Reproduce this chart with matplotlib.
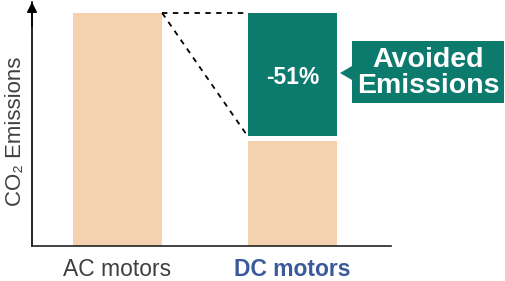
import matplotlib
matplotlib.use("Agg")
import matplotlib.pyplot as plt
from matplotlib.patches import Polygon

plt.rcParams["font.family"] = ["Liberation Sans", "DejaVu Sans"]

# 数据: 相对 CO2 排放 (AC = 100)
categories = ["AC motors", "DC motors"]
ac_total = 100
dc_kept = 45        # DC 剩余排放 (浅色柱)
avoided = 53        # 避免的排放 (绿色块)
gap = 2             # 两块之间的白缝
label_pct = "-51%"
callout = "Avoided\nEmissions"

BEIGE = "#F5D2AF"
TEAL = "#0D7A6E"
BLUE = "#3A5A9A"
GRAY = "#404040"
W = 0.51

fig = plt.figure(figsize=(5.06, 2.81), dpi=100)
ax = fig.add_axes([32 / 506, 35 / 281, 359 / 506, 244 / 281])

ax.bar(0, ac_total, width=W, color=BEIGE)
ax.bar(1, dc_kept, width=W, color=BEIGE)
ax.bar(1, avoided, bottom=dc_kept + gap, width=W, color=TEAL)

# 虚线: AC 顶部 -> DC 绿色块
x0, x1 = W / 2, 1 - W / 2
ax.plot([x0, x1], [ac_total, ac_total], ls=(0, (3, 3)), color="black", lw=1.3)
ax.plot([x0, x1], [ac_total, dc_kept + gap], ls=(0, (3, 3)), color="black", lw=1.3)

ax.text(1, dc_kept + gap + avoided / 2 - 1, label_pct, color="white", fontsize=16.5,
        fontweight="bold", ha="center", va="center")

ax.set_xlim(-0.489, 1.563)
ax.set_ylim(0, ac_total * 244 / 233)
ax.spines[["top", "right"]].set_visible(False)
ax.spines["left"].set_linewidth(1.2)
ax.spines["bottom"].set_linewidth(1.2)
ax.spines["bottom"].set_color("#222222")
ax.set_yticks([])
ax.set_xticks([0, 1])
ax.set_xticklabels(categories, fontsize=16.5)
ax.tick_params(axis="x", length=0, pad=9)
lbls = ax.get_xticklabels()
lbls[0].set_color(GRAY)
lbls[1].set_color(BLUE)
lbls[1].set_fontweight("bold")

# y 轴箭头
ax.annotate("", xy=(0, 1.0), xytext=(0, 0.9), xycoords="axes fraction",
            arrowprops=dict(arrowstyle="-|>,head_length=0.6,head_width=0.3",
                            color="black", lw=1.2, shrinkA=0, shrinkB=0))
ax.set_ylabel("CO₂ Emissions", fontsize=16, color=GRAY)
ax.yaxis.set_label_coords(-0.018, 0.47)

# 标注框 (像素坐标 -> figure fraction)
def fp(x, y):
    return (x / 506, 1 - y / 281)

pts = [fp(352, 41), fp(504, 41), fp(504, 103), fp(352, 103),
       fp(352, 80), fp(340, 73), fp(352, 66)]
fig.patches.append(Polygon(pts, closed=True, transform=fig.transFigure,
                           facecolor=TEAL, edgecolor="none"))
fig.text(428 / 506, 1 - 73 / 281, callout, color="white", fontsize=20.5,
         fontweight="bold", ha="center", va="center", linespacing=1.02)

fig.savefig("out.png", dpi=100)
